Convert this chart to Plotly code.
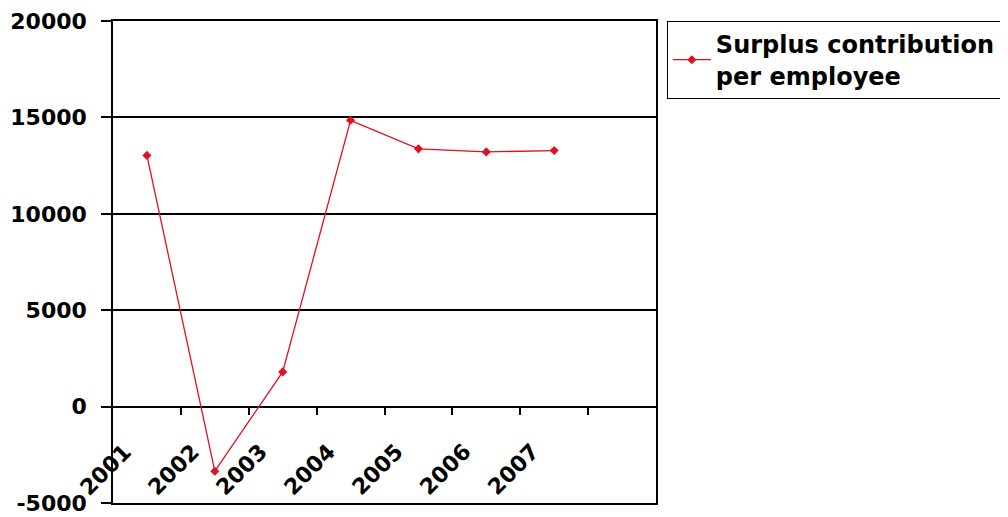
import plotly.graph_objects as go

years = ["2001", "2002", "2003", "2004", "2005", "2006", "2007"]
values = [13030, -3350, 1800, 14850, 13370, 13210, 13280]
series_name = "Surplus contribution<br>per employee"
y_ticks = [-5000, 0, 5000, 10000, 15000, 20000]
y_tick_text = ["-5000", "0", "5000", "10000", "15000", "20000"]
n_slots = 8  # Excel category slots (last one empty)

FONT = "DejaVu Sans"
pos = list(range(1, len(years) + 1))
boundaries = [i + 0.5 for i in range(1, n_slots)]
y_min, y_max = y_ticks[0], y_ticks[-1]
zero_frac = (0 - y_min) / (y_max - y_min)

fig = go.Figure()
fig.add_trace(go.Scatter(
    x=pos, y=values, mode="lines+markers", name=series_name,
    line=dict(color="#e0101e", width=1.3),
    marker=dict(symbol="diamond", size=7, color="#e0101e"),
))

# rotated category labels (Excel-style placement)
for p, lab in zip(pos, years):
    fig.add_annotation(
        x=p, y=0, xref="x", yref="y", text=lab, showarrow=False,
        textangle=-45, xanchor="center", yanchor="middle",
        xshift=-41, yshift=-63,
        font=dict(family=FONT, size=22, color="black", weight="bold"),
    )

fig.update_layout(
    width=1000, height=509,
    margin=dict(l=105, r=352, t=13, b=14, autoexpand=False),
    paper_bgcolor="white", plot_bgcolor="white",
    showlegend=True,
    legend=dict(
        x=1.02, y=1.0, xanchor="left", yanchor="top",
        bordercolor="black", borderwidth=1, bgcolor="white",
        font=dict(family=FONT, size=24, color="black", weight="bold"),
        itemwidth=38,
    ),
    xaxis=dict(
        range=[0.5, n_slots + 0.5], showgrid=False, zeroline=False,
        showline=True, mirror=True, linecolor="black", linewidth=1.5,
        showticklabels=False, ticks="", automargin=False,
    ),
    xaxis2=dict(
        range=[0.5, n_slots + 0.5], overlaying="x", anchor="free",
        position=zero_frac, side="bottom", showgrid=False, zeroline=False,
        showline=False, tickvals=boundaries, ticks="outside", ticklen=7,
        tickcolor="black", tickwidth=1.5, showticklabels=False,
        automargin=False,
    ),
    yaxis=dict(
        range=[y_min, y_max], tickvals=y_ticks, ticktext=y_tick_text,
        showgrid=True, gridcolor="black", gridwidth=1.5, zeroline=False,
        showline=True, mirror=True, linecolor="black", linewidth=1.5,
        ticks="outside", ticklen=10, tickcolor="black", tickwidth=1.5,
        tickfont=dict(family=FONT, size=22, color="black", weight="bold"),
        ticklabelstandoff=10, automargin=False,
    ),
)
# invisible trace to activate xaxis2
fig.add_trace(go.Scatter(x=[None], y=[None], xaxis="x2", showlegend=False, hoverinfo="skip"))

fig.write_html("out.html")
